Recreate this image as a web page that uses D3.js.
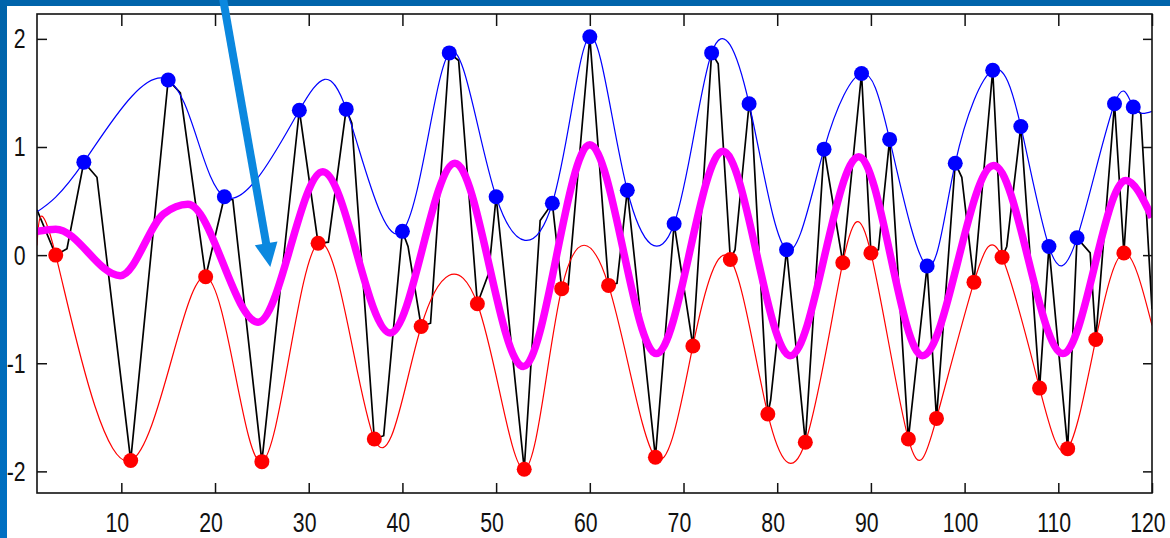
<!DOCTYPE html>
<html>
<head>
<meta charset="utf-8">
<script src="https://d3js.org/d3.v7.min.js"></script>
<style>
  body { margin: 0; background: #fff; }
  svg { display: block; }
</style>
</head>
<body>
<svg width="1170" height="538"></svg>
<script>
// black signal, vertices
var sigX = [1, 3, 4.2, 6, 7.4, 11, 15, 16.3, 19, 21, 21.9, 25, 29, 31, 32.1, 34, 34.6, 37, 38, 40, 40.6,
  42, 43, 45, 46, 48, 49.2, 50, 53, 54.7, 56, 57, 57.7, 60, 62, 62.9, 64, 67, 69, 71, 73, 73.7,
  75, 75.5, 77, 77.3, 79, 79.3, 81, 83, 85, 87, 89, 90, 90.8, 92, 94, 96, 97, 99, 99.7, 101, 103,
  104, 104.5, 106, 108, 109, 111, 112, 113.4, 114, 116, 117, 118, 118.8, 120];
var sigY = [0.42, 0.00, 0.06, 0.86, 0.72, -1.90, 1.62, 1.50, -0.20, 0.54, 0.51, -1.91, 1.34, 0.11, 0.12, 1.35, 1.22, -1.70, -1.67, 0.22, 0.08,
  -0.66, -0.63, 1.87, 1.80, -0.45, -0.17, 0.54, -1.98, 0.32, 0.48, -0.31, -0.28, 2.02, -0.28, -0.26, 0.60, -1.87, 0.29, -0.84, 1.87, 1.77,
  -0.04, 0.05, 1.40, 1.25, -1.47, -1.34, 0.05, -1.73, 0.98, -0.07, 1.68, 0.02, 0.05, 1.07, -1.70, -0.10, -1.51, 0.85, 0.72, -0.25, 1.71,
  -0.02, 0.08, 1.19, -1.23, 0.08, -1.79, 0.16, 0.02, -0.78, 1.40, 0.02, 1.37, 1.31, -0.50];

// upper envelope: maxima (plus the two end values)
var upX = [1, 6, 15, 21, 29, 34, 40, 45, 50, 56, 60, 64, 69, 73, 77, 81, 85, 89, 92, 96, 99, 103, 106, 109, 112, 116, 118, 120];
var upY = [0.40, 0.86, 1.62, 0.54, 1.34, 1.35, 0.22, 1.87, 0.54, 0.48, 2.02, 0.60, 0.29, 1.87, 1.40, 0.05, 0.98, 1.68, 1.07, -0.10, 0.85, 1.71, 1.19, 0.08, 0.16, 1.40, 1.37, 1.33];

// lower envelope: minima (plus the two end values)
var lowX = [1, 3, 11, 19, 25, 31, 37, 42, 48, 53, 57, 62, 67, 71, 75, 79, 83, 87, 90, 94, 97, 101, 104, 108, 111, 114, 117, 120];
var lowY = [0.09, 0.00, -1.90, -0.20, -1.91, 0.11, -1.70, -0.66, -0.45, -1.98, -0.31, -0.28, -1.87, -0.84, -0.04, -1.47, -1.73, -0.07, 0.02, -1.70, -1.51, -0.25, -0.02, -1.23, -1.79, -0.78, 0.02, -0.65];

// mean of the envelopes (magenta)
var meanX = [1, 3, 9.9, 14.5, 17.1, 24.6, 31.5, 38.7, 45.6, 52.9, 60, 67.1, 74.2, 81.4, 88.7, 95.5, 103.1, 110.5, 117.2, 120];
var meanY = [0.22, 0.24, -0.19, 0.38, 0.47, -0.62, 0.77, -0.72, 0.85, -1.03, 1.02, -0.91, 0.96, -0.93, 0.91, -0.93, 0.83, -0.91, 0.69, 0.35];

var xTicks = [10, 20, 30, 40, 50, 60, 70, 80, 90, 100, 110, 120];
var yTicks = [-2, -1, 0, 1, 2];
var xLim = [1, 120];
var yLim = [-2.2, 2.23];

// arrow (data coords): tail above the box, tip near x=26
var arrowTail = [20.8, 2.4];
var arrowTip = [25.9, -0.11];

let svg = d3.select("svg");

let margin = { top: 14, right: 18, bottom: 45, left: 37 };
let plotWidth = 1170 - margin.left - margin.right;
let plotHeight = 538 - margin.top - margin.bottom;

let xScale = d3.scaleLinear().domain(xLim).range([0, plotWidth]);
let yScale = d3.scaleLinear().domain(yLim).range([plotHeight, 0]);

svg.append("rect").attr("width", 1170).attr("height", 538).attr("fill", "#fff");

let plot = svg.append("g").attr("id", "plot")
  .attr("transform", "translate(" + margin.left + "," + margin.top + ")");

plot.append("clipPath").attr("id", "clip")
  .append("rect").attr("width", plotWidth).attr("height", plotHeight);

let lines = plot.append("g").attr("clip-path", "url(#clip)");

function pts(xs, ys) {
  return xs.map(function(d, i) { return [d, ys[i]]; });
}

let straight = d3.line()
  .x(function(d) { return xScale(d[0]); })
  .y(function(d) { return yScale(d[1]); });

let smooth = d3.line()
  .x(function(d) { return xScale(d[0]); })
  .y(function(d) { return yScale(d[1]); })
  .curve(d3.curveNatural);

let smoothMean = d3.line()
  .x(function(d) { return xScale(d[0]); })
  .y(function(d) { return yScale(d[1]); })
  .curve(d3.curveMonotoneX);

// signal
lines.append("path")
  .attr("d", straight(pts(sigX, sigY)))
  .attr("fill", "none").attr("stroke", "#000").attr("stroke-width", 1.7);

// envelopes
lines.append("path")
  .attr("d", smooth(pts(upX, upY)))
  .attr("fill", "none").attr("stroke", "#0000ff").attr("stroke-width", 1.2);

lines.append("path")
  .attr("d", smooth(pts(lowX, lowY)))
  .attr("fill", "none").attr("stroke", "#ff0000").attr("stroke-width", 1.2);

// extrema dots (skip the end values)
let maxPts = pts(upX, upY).slice(1, -1);
let minPts = pts(lowX, lowY).slice(1, -1);

lines.selectAll("circle.max").data(maxPts).enter().append("circle")
  .attr("class", "max")
  .attr("cx", function(d) { return xScale(d[0]); })
  .attr("cy", function(d) { return yScale(d[1]); })
  .attr("r", 7.5).attr("fill", "#0000ff");

lines.selectAll("circle.min").data(minPts).enter().append("circle")
  .attr("class", "min")
  .attr("cx", function(d) { return xScale(d[0]); })
  .attr("cy", function(d) { return yScale(d[1]); })
  .attr("r", 7.5).attr("fill", "#ff0000");

// mean
lines.append("path")
  .attr("d", smoothMean(pts(meanX, meanY)))
  .attr("fill", "none").attr("stroke", "#ff00ff").attr("stroke-width", 7.5)
  .attr("stroke-linejoin", "round");

// box + ticks (matlab style, ticks inside on all four sides)
plot.append("rect")
  .attr("width", plotWidth).attr("height", plotHeight)
  .attr("fill", "none").attr("stroke", "#111").attr("stroke-width", 1.6);

let xAxis = d3.axisBottom(xScale).tickValues(xTicks).tickSize(-10).tickPadding(19)
  .tickFormat(d3.format("d"));
let yAxis = d3.axisLeft(yScale).tickValues(yTicks).tickSize(-10).tickPadding(11)
  .tickFormat(function(d) { return d < 0 ? "-" + Math.abs(d) : "" + d; });

let xGroup = plot.append("g").attr("id", "x-axis")
  .attr("transform", "translate(0," + plotHeight + ")").call(xAxis);
let yGroup = plot.append("g").attr("id", "y-axis").call(yAxis);

plot.append("g").attr("transform", "translate(0,0)")
  .call(d3.axisTop(xScale).tickValues(xTicks).tickSize(-12).tickFormat(""));
plot.append("g").attr("transform", "translate(" + plotWidth + ",0)")
  .call(d3.axisRight(yScale).tickValues(yTicks).tickSize(-9).tickFormat(""));

plot.selectAll(".domain").remove();
plot.selectAll(".tick line").attr("stroke", "#111").attr("stroke-width", 1.5);

plot.selectAll("#x-axis text, #y-axis text")
  .attr("fill", "#111")
  .style("font-family", "'Liberation Sans', Arial, sans-serif")
  .style("font-size", "28px");

// the digits in the picture are narrow, squeeze them a bit
xGroup.selectAll("text").attr("x", -6).attr("transform", "scale(0.76,1)");
yGroup.selectAll("text").attr("x", -15).attr("transform", "scale(0.76,1)");

// slide frame
let grad = svg.append("defs").append("linearGradient")
  .attr("id", "bar").attr("x1", 0).attr("y1", 0).attr("x2", 0).attr("y2", 1);
grad.append("stop").attr("offset", "0%").attr("stop-color", "#0063a9");
grad.append("stop").attr("offset", "100%").attr("stop-color", "#0070c2");

svg.append("rect").attr("x", 0).attr("y", 0).attr("width", 7).attr("height", 538).attr("fill", "url(#bar)");
svg.append("rect").attr("x", 0).attr("y", 0).attr("width", 1170).attr("height", 6).attr("fill", "#0064ab");

// arrow
let tx = margin.left + xScale(arrowTail[0]), ty = margin.top + yScale(arrowTail[1]);
let hx = margin.left + xScale(arrowTip[0]), hy = margin.top + yScale(arrowTip[1]);
let len = Math.sqrt((hx - tx) * (hx - tx) + (hy - ty) * (hy - ty));
let ux = (hx - tx) / len, uy = (hy - ty) / len;
let headLen = 24, headHalf = 11.5;
let bx = hx - ux * headLen, by = hy - uy * headLen;

svg.append("line")
  .attr("x1", tx).attr("y1", ty).attr("x2", bx + ux * 2).attr("y2", by + uy * 2)
  .attr("stroke", "#0b88df").attr("stroke-width", 8);

svg.append("polygon")
  .attr("points", [[hx, hy], [bx - uy * headHalf, by + ux * headHalf], [bx + uy * headHalf, by - ux * headHalf]]
    .map(function(p) { return p.join(","); }).join(" "))
  .attr("fill", "#0b88df");
</script>
</body>
</html>
